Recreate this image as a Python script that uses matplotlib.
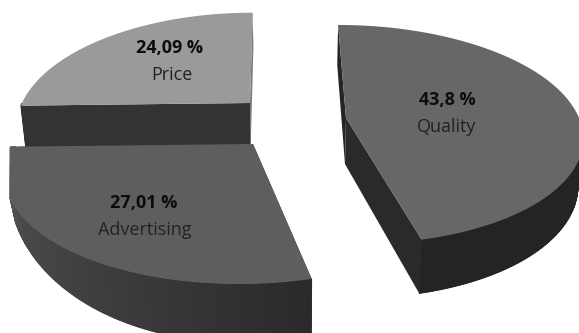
import numpy as np
import matplotlib
matplotlib.use("Agg")
import matplotlib.pyplot as plt
from matplotlib.collections import PolyCollection

categories = ["Quality", "Advertising", "Price"]
shares = [43.8, 27.01, 24.09]
share_labels = ["43,8 %", "27,01 %", "24,09 %"]

# Per-slice drawing setup: exploded centre, radii, perspective strength, lean of
# the receding edges, wall height, colours and label position (pixel space).
style = {
    "Quality": dict(c=(346, 118), rx=233, ry=107, k=0.15, skew=-0.085, d=46, fade=None, reach=None,
                    top="#676767", wall=("#242424", "#242424"), cut="#252525", end="#2a2a2a",
                    lab=(447, 100), name_dx=0),
    "Advertising": dict(c=(253, 144), rx=241, ry=111, k=0.207, skew=0.10, d=46, fade=1.5, reach=243,
                        top="#5e5e5e", wall=("#2a2a2a", "#5a5a5a"), cut="#333333", end="#333333",
                        lab=(144, 203), name_dx=1),
    "Price": dict(c=(250, 103), rx=228, ry=109, k=0.207, skew=0.03, d=42, fade=None, reach=None,
                  top="#9a9a9a", wall=("#333333", "#333333"), cut="#333333", end="#777777",
                  lab=(169, 48), name_dx=3),
}
CONVERGE = 0.018
MID_X = 290

plt.rcParams["font.family"] = ["Open Sans", "DejaVu Sans"]
fig = plt.figure(figsize=(5.79, 3.33), dpi=100, facecolor="white")
ax = fig.add_axes([0, 0, 1, 1])
ax.set_xlim(0, 579)
ax.set_ylim(333, 0)
ax.axis("off")


def project(s, theta, a1=None, drop=False):
    """Ground-plane angle (clockwise from the back) to screen position."""
    theta = np.atleast_1d(theta)
    u, v = np.sin(theta), np.cos(theta)
    f = 1 / (1 + s["k"] * v)
    dy = s["ry"] * v * f
    dx = s["rx"] * u * f + s["skew"] * dy
    if s["reach"] is not None:
        dx = np.clip(dx, -s["reach"], s["reach"])
    x = s["c"][0] + dx
    y = s["c"][1] - dy
    if drop:
        height = s["d"] * f
        if s["fade"] is not None:
            height = height * np.sin(np.pi / 2 * np.clip((a1 - theta) / s["fade"], 0, 1))
        y = y + height
        x = x - (x - MID_X) * CONVERGE
    return np.column_stack([x, y])


def lerp_gray(a, b, t):
    ca, cb = np.array(matplotlib.colors.to_rgb(a)), np.array(matplotlib.colors.to_rgb(b))
    return ca + (cb - ca) * t


fractions = np.array(shares) / np.sum(shares)
edges = np.concatenate([[0], np.cumsum(fractions)]) * 2 * np.pi
spans = {name: (edges[i], edges[i + 1]) for i, name in enumerate(categories)}

# Far slices go first so that nearer ones overlap them.
for zorder, name in enumerate(["Price", "Advertising", "Quality"]):
    s = style[name]
    a0, a1 = spans[name]
    z = zorder * 10
    th = np.linspace(a0, a1, 161)
    cx, cy = s["c"]
    c_top = np.array([[cx, cy]])
    c_low = np.array([[cx - (cx - MID_X) * CONVERGE, cy + s["d"]]])

    # Flat cut faces
    p0, p0d = project(s, a0), project(s, a0, a1, True)
    p1, p1d = project(s, a1), project(s, a1, a1, True)
    ax.add_patch(plt.Polygon(np.vstack([c_top, p1, p1d, c_low]), fc=s["end"], ec="none", zorder=z))
    ax.add_patch(plt.Polygon(np.vstack([c_top, p0, p0d, c_low]), fc=s["cut"], ec="none", zorder=z + 1))

    # Outer wall, shaded along the arc; only the part facing the viewer
    front = th[np.cos(th) < 0]
    if len(front) > 1:
        upper, lower = project(s, front), project(s, front, a1, True)
        base = np.vstack([upper, lower[::-1]])
        ax.add_patch(plt.Polygon(base, fc=lerp_gray(*s["wall"], 0.5), ec="none", zorder=z + 2))
        quads = [np.vstack([upper[i], upper[i + 1], lower[i + 1], lower[i]])
                 for i in range(len(front) - 1)]
        ts = (front[:-1] - a0) / (a1 - a0)
        cols = [lerp_gray(s["wall"][0], s["wall"][1], t) for t in ts]
        ax.add_collection(PolyCollection(quads, facecolors=cols, edgecolors=cols,
                                         linewidths=0.6, zorder=z + 2))

    # Top surface
    rim = project(s, th)
    ax.add_patch(plt.Polygon(np.vstack([c_top, rim]), fc=s["top"], ec="none", zorder=z + 3))

    # Labels
    i = categories.index(name)
    lx, ly = s["lab"]
    ax.text(lx, ly, share_labels[i], ha="center", va="center", fontsize=13,
            fontweight="bold", color="#0c0c0c", zorder=50)
    ax.text(lx + s["name_dx"], ly + 27, name, ha="center", va="center", fontsize=13,
            color="#222222", zorder=50)

fig.savefig("out.png", dpi=100)
